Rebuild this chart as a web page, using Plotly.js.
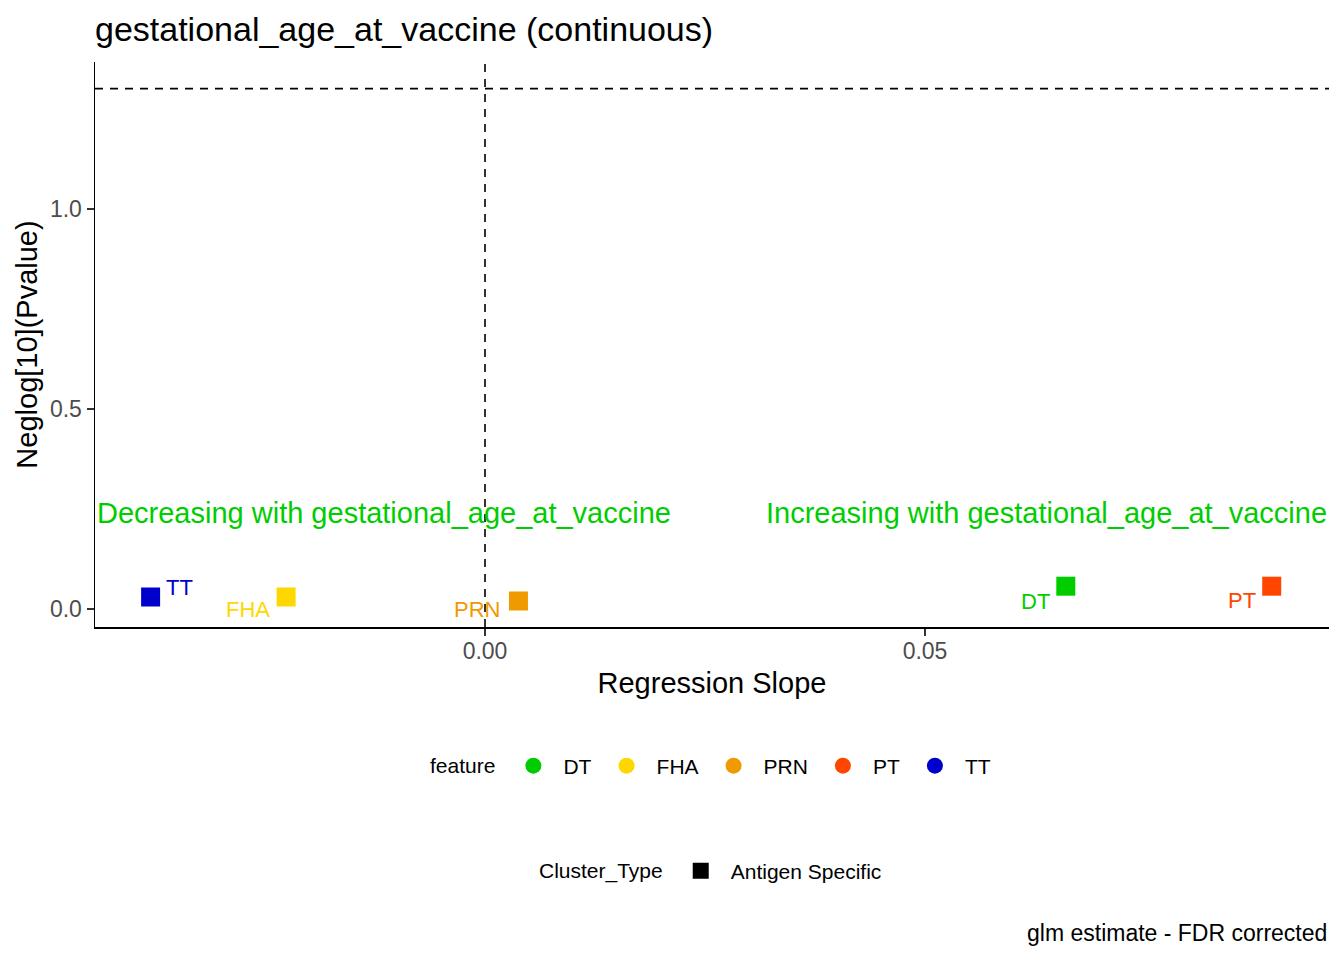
<!DOCTYPE html>
<html>
<head>
<meta charset="utf-8">
<script src="https://cdn.plot.ly/plotly-3.0.1.min.js"></script>
<style>html,body{margin:0;padding:0;background:#fff;}#chart{width:1344px;height:960px;}</style>
</head>
<body>
<div id="chart"></div>
<script>
// ---- data ----
const features = ['DT', 'FHA', 'PRN', 'PT', 'TT'];
const slopes = [0.0660, -0.0226, 0.0038, 0.0894, -0.0380];
const neglogP = [0.057, 0.030, 0.020, 0.057, 0.030];
const featureColors = ['#00CD00', '#FFD700', '#EE9A00', '#FF4500', '#0000CD'];
const clusterTypes = ['Antigen Specific'];
const xTickVals = [0, 0.05];
const xTickText = ['0.00', '0.05'];
const yTickVals = [0, 0.5, 1.0];
const yTickText = ['0.0', '0.5', '1.0'];
const pThreshold = 0.05;
const titleText = 'gestational_age_at_vaccine (continuous)';
const decText = 'Decreasing with gestational_age_at_vaccine';
const incText = 'Increasing with gestational_age_at_vaccine';
const captionText = 'glm estimate - FDR corrected';

// ---- label placement (style only, ggrepel-like offsets in px) ----
const labelStyle = {
  DT:  {xanchor: 'right', xshift: -14, yshift: -15},
  FHA: {xanchor: 'right', xshift: -14, yshift: -12},
  PRN: {xanchor: 'right', xshift: -16, yshift: -8},
  PT:  {xanchor: 'right', xshift: -14, yshift: -14},
  TT:  {xanchor: 'left',  xshift: 13,  yshift: 10}
};

const FONT = 'Liberation Sans, Arial, sans-serif';
const traces = [];
features.forEach((f, i) => {
  traces.push({
    type: 'scatter', mode: 'markers', x: [slopes[i]], y: [neglogP[i]],
    marker: {symbol: 'square', size: 19, color: featureColors[i]},
    showlegend: false, hoverinfo: 'x+y+name', name: f
  });
});
// legend entries for feature (circles)
features.forEach((f, i) => {
  traces.push({
    type: 'scatter', mode: 'markers', x: [null], y: [null], name: f,
    marker: {symbol: 'circle', size: 18, color: featureColors[i]},
    legend: 'legend', showlegend: true
  });
});
// legend entries for Cluster_Type
clusterTypes.forEach((c) => {
  traces.push({
    type: 'scatter', mode: 'markers', x: [null], y: [null], name: c,
    marker: {symbol: 'square', size: 18, color: '#000000'},
    legend: 'legend2', showlegend: true
  });
});

const annotations = features.map((f, i) => ({
  xref: 'x', yref: 'y', x: slopes[i], y: neglogP[i],
  text: f, showarrow: false,
  xanchor: labelStyle[f].xanchor, yanchor: 'middle',
  xshift: labelStyle[f].xshift, yshift: labelStyle[f].yshift,
  font: {family: FONT, size: 22, color: featureColors[i]}
}));
annotations.push({
  xref: 'paper', yref: 'y', x: 0, y: 0.24, text: decText, showarrow: false,
  xanchor: 'left', yanchor: 'middle', font: {family: FONT, size: 29, color: '#00CD00'}
});
annotations.push({
  xref: 'paper', yref: 'y', x: 1, y: 0.24, text: incText, showarrow: false,
  xanchor: 'right', yanchor: 'middle', font: {family: FONT, size: 29, color: '#00CD00'}
});
annotations.push({
  xref: 'paper', yref: 'paper', x: 1, y: -0.5416, text: captionText, showarrow: false,
  xanchor: 'right', yanchor: 'middle', font: {family: FONT, size: 23, color: '#000000'}
});

const thr = -Math.log10(pThreshold);
const layout = {
  width: 1344, height: 960,
  paper_bgcolor: '#ffffff', plot_bgcolor: '#ffffff',
  font: {family: FONT, color: '#000000'},
  margin: {l: 95, r: 15, t: 62, b: 333},
  title: {
    text: titleText, x: 95 / 1344, xanchor: 'left', xref: 'container',
    y: 1 - 29 / 960, yanchor: 'middle', yref: 'container',
    font: {family: FONT, size: 34, color: '#000000'}
  },
  xaxis: {
    range: [-0.04432, 0.09591], tickvals: xTickVals, ticktext: xTickText,
    showgrid: false, zeroline: false, showline: true, linecolor: '#000000', linewidth: 1.5,
    ticks: 'outside', ticklen: 7, tickwidth: 1.5, tickcolor: '#333333',
    ticklabelstandoff: -4,
    tickfont: {family: FONT, size: 23, color: '#4D4D4D'},
    title: {text: 'Regression Slope', standoff: 9, font: {family: FONT, size: 29, color: '#000000'}},
    automargin: false
  },
  yaxis: {
    range: [-0.045, 1.3675], tickvals: yTickVals, ticktext: yTickText,
    showgrid: false, zeroline: false, showline: true, linecolor: '#000000', linewidth: 1.5,
    ticks: 'outside', ticklen: 7, tickwidth: 1.5, tickcolor: '#333333',
    tickfont: {family: FONT, size: 23, color: '#4D4D4D'},
    title: {text: 'Neglog[10](Pvalue)', standoff: 4, font: {family: FONT, size: 29, color: '#000000'}},
    automargin: false
  },
  shapes: [
    {type: 'line', xref: 'x', yref: 'paper', x0: 0, x1: 0, y0: 0, y1: 1,
     line: {color: '#000000', width: 1.6, dash: '8px,7px'}},
    {type: 'line', xref: 'paper', yref: 'y', x0: 0, x1: 1, y0: thr, y1: thr,
     line: {color: '#000000', width: 1.6, dash: '8px,7px'}}
  ],
  annotations: annotations,
  legend: {
    orientation: 'h', x: 0.5, xanchor: 'center', y: -0.246, yanchor: 'middle',
    xref: 'paper', yref: 'paper', itemwidth: 50,
    title: {text: 'feature', side: 'left', font: {family: FONT, size: 21, color: '#000000'}},
    font: {family: FONT, size: 21, color: '#000000'},
    bgcolor: 'rgba(0,0,0,0)', borderwidth: 0, itemclick: false, itemdoubleclick: false
  },
  legend2: {
    orientation: 'h', x: 0.5, xanchor: 'center', y: -0.432, yanchor: 'middle',
    xref: 'paper', yref: 'paper', itemwidth: 50,
    title: {text: 'Cluster_Type', side: 'left', font: {family: FONT, size: 21, color: '#000000'}},
    font: {family: FONT, size: 21, color: '#000000'},
    bgcolor: 'rgba(0,0,0,0)', borderwidth: 0, itemclick: false, itemdoubleclick: false
  },
  showlegend: true
};

Plotly.newPlot('chart', traces, layout, {displayModeBar: false, staticPlot: true});
</script>
</body>
</html>
